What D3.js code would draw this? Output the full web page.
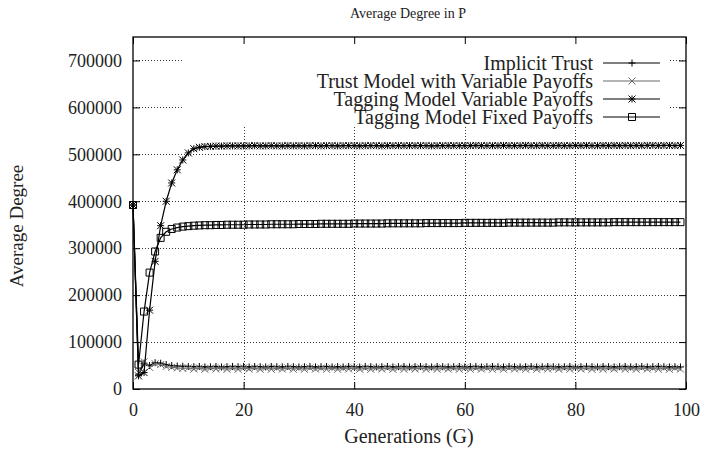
<!DOCTYPE html>
<html>
<head>
<meta charset="utf-8">
<script src="https://cdn.jsdelivr.net/npm/d3@7"></script>
<style>
  html, body { margin: 0; padding: 0; background: #fff; }
  svg { display: block; font-family: "Liberation Serif", "Times New Roman", serif; }
</style>
</head>
<body>
<svg id="chart" width="707" height="450"></svg>
<script>
// Average degree in population P over 100 generations, four models.
const yTicks = [0, 100000, 200000, 300000, 400000, 500000, 600000, 700000];
const xTicks = [0, 20, 40, 60, 80, 100];

const seriesNames = [
  "Implicit Trust",
  "Trust Model with Variable Payoffs",
  "Tagging Model Variable Payoffs",
  "Tagging Model Fixed Payoffs"
];

const implicitTrust = [
  392000, 30000, 55000, 50000, 56000, 55000, 52000, 50000, 49000, 48500,
  48000, 47500, 48000, 47000, 47500, 48000, 47000, 47500, 48000, 47500,
  48000, 47000, 48000, 47500, 47000, 48000, 47500, 47000, 48000, 47500,
  47000, 47500, 48000, 47000, 47500, 48000, 47000, 47500, 47000, 48000,
  47500, 47000, 48000, 47500, 47000, 47500, 48000, 47000, 47500, 48000,
  47000, 47500, 48000, 47500, 47000, 48000, 47500, 47000, 47500, 48000,
  47000, 47500, 48000, 47000, 47500, 48000, 47500, 47000, 48000, 47500,
  47000, 47500, 48000, 47000, 47500, 48000, 47500, 47000, 47500, 48000,
  47000, 47500, 48000, 47500, 47000, 48000, 47500, 47000, 47500, 48000,
  47000, 47500, 48000, 47000, 47500, 48000, 47500, 47000, 47500, 47000
];

const trustVariable = [
  392000, 35000, 58000, 46000, 54000, 52000, 48000, 46000, 45000, 44000,
  45000, 42500, 45000, 42000, 44500, 42500, 45000, 42000, 44500, 42000,
  45000, 42500, 44500, 42000, 45000, 42000, 44500, 42500, 45000, 42000,
  44500, 42000, 45000, 42500, 44500, 42000, 45000, 42000, 44500, 42500,
  45000, 42000, 44500, 42000, 45000, 42500, 44500, 42000, 45000, 42000,
  44500, 42500, 45000, 42000, 44500, 42000, 45000, 42500, 44500, 42000,
  45000, 42000, 44500, 42500, 45000, 42000, 44500, 42000, 45000, 42500,
  44500, 42000, 45000, 42000, 44500, 42500, 45000, 42000, 44500, 42000,
  45000, 42500, 44500, 42000, 45000, 42000, 44500, 42500, 45000, 42000,
  44500, 42000, 45000, 42500, 44500, 42000, 45000, 42000, 44500, 42500
];

const taggingVariable = [
  392000, 28000, 35000, 168000, 272000, 348000, 400000, 439000, 467000, 488000,
  503000, 512000, 515000, 516500, 517000, 517500, 517500, 518000, 518000, 518000,
  518000, 518000, 518500, 518000, 518000, 518500, 518000, 518000, 518500, 518000,
  518500, 518000, 518500, 518500, 518000, 518500, 518500, 518000, 518500, 518500,
  518500, 518000, 518500, 518500, 518500, 518000, 518500, 518500, 518500, 518500,
  518500, 518500, 518500, 518500, 518000, 518500, 518500, 518500, 518500, 518500,
  518500, 518500, 519000, 518500, 518500, 518500, 518500, 519000, 518500, 518500,
  518500, 519000, 518500, 518500, 519000, 518500, 518500, 519000, 518500, 518500,
  519000, 518500, 519000, 518500, 518500, 519000, 518500, 519000, 518500, 519000,
  518500, 519000, 518500, 519000, 519000, 518500, 519000, 519000, 518500, 519000
];

const taggingFixed = [
  392000, 52000, 165000, 248000, 293000, 322000, 335000, 341000, 344000, 346000,
  347000, 348000, 348500, 349000, 349000, 349500, 349500, 350000, 350000, 350000,
  350000, 350500, 350500, 350500, 350500, 351000, 351000, 351000, 351000, 351000,
  351500, 351500, 351500, 351500, 352000, 352000, 352000, 352000, 352000, 352000,
  352500, 352500, 352500, 352500, 352500, 352500, 353000, 353000, 353000, 353000,
  353000, 353000, 353000, 353500, 353500, 353500, 353500, 353500, 353500, 353500,
  354000, 354000, 354000, 354000, 354000, 354000, 354000, 354000, 354500, 354500,
  354500, 354500, 354500, 354500, 354500, 354500, 354500, 355000, 355000, 355000,
  355000, 355000, 355000, 355000, 355000, 355000, 355000, 355500, 355500, 355500,
  355500, 355500, 355500, 355500, 355500, 355500, 355500, 355500, 355500, 355500
];

const seriesValues = [implicitTrust, trustVariable, taggingVariable, taggingFixed];
const seriesSymbols = ["plus", "cross", "star", "square"];
const seriesColors = ["#000", "#6a6a6a", "#000", "#000"];

const svg = d3.select("#chart");
const plotL = 133, plotR = 686, plotT = 37, plotB = 389;

const x = d3.scaleLinear().domain([0, 100]).range([plotL, plotR]);
const y = d3.scaleLinear().domain([0, 750000]).range([plotB, plotT]);

// Dotted grid
const grid = svg.append("g").attr("stroke", "#000").attr("stroke-width", 0.8)
  .attr("stroke-dasharray", "1,2");
grid.selectAll("line.gy").data(yTicks.slice(1)).join("line")
  .attr("x1", plotL).attr("x2", plotR)
  .attr("y1", d => Math.round(y(d)) + 0.5).attr("y2", d => Math.round(y(d)) + 0.5);
grid.selectAll("line.gx").data(xTicks.slice(1, -1)).join("line")
  .attr("y1", plotT).attr("y2", plotB)
  .attr("x1", d => Math.round(x(d)) + 0.5).attr("x2", d => Math.round(x(d)) + 0.5);

// Key area keeps the grid clear behind the legend
svg.append("rect").attr("x", 184).attr("y", plotT + 1).attr("width", 485).attr("height", 87)
  .attr("fill", "#fff");

// Axes with ticks drawn inward, mirrored on the opposite sides
const tickLen = 7;
const axL = svg.append("g").attr("transform", `translate(${plotL},0)`)
  .call(d3.axisLeft(y).tickValues(yTicks).tickSize(-tickLen).tickPadding(11).tickFormat(d3.format("d")));
const axR = svg.append("g").attr("transform", `translate(${plotR},0)`)
  .call(d3.axisRight(y).tickValues(yTicks).tickSize(-tickLen).tickFormat(""));
const axB = svg.append("g").attr("transform", `translate(0,${plotB})`)
  .call(d3.axisBottom(x).tickValues(xTicks).tickSize(-tickLen).tickPadding(14).tickFormat(d3.format("d")));
const axT = svg.append("g").attr("transform", `translate(0,${plotT})`)
  .call(d3.axisTop(x).tickValues(xTicks).tickSize(-tickLen).tickFormat(""));
[axL, axR, axB, axT].forEach(a => {
  a.select(".domain").remove();
  a.selectAll("line").attr("stroke", "#000").attr("stroke-width", 1);
  a.selectAll("text").attr("font-family", "Liberation Serif, serif").attr("font-size", 18)
    .attr("fill", "#222");
});

// Frame
svg.append("rect").attr("x", plotL).attr("y", plotT).attr("width", plotR - plotL).attr("height", plotB - plotT)
  .attr("fill", "none").attr("stroke", "#000").attr("stroke-width", 1.3);

// Marker glyphs (gnuplot-style point types)
function marker(g, type, cx, cy, color) {
  const s = 3.5;
  const p = g.append("path").attr("fill", "none").attr("stroke", color).attr("stroke-width", 1);
  let d = "";
  if (type === "plus" || type === "star") d += `M${cx - s},${cy}H${cx + s}M${cx},${cy - s}V${cy + s}`;
  if (type === "cross" || type === "star") d += `M${cx - s},${cy - s}L${cx + s},${cy + s}M${cx - s},${cy + s}L${cx + s},${cy - s}`;
  if (type === "square") d += `M${cx - s},${cy - s}h${2 * s}v${2 * s}h${-2 * s}Z`;
  p.attr("d", d);
}

const line = d3.line().x((d, i) => x(i)).y(d => y(d));
const plot = svg.append("g");
seriesValues.forEach((vals, k) => {
  plot.append("path").datum(vals).attr("d", line)
    .attr("fill", "none").attr("stroke", seriesColors[k]).attr("stroke-width", 1.2);
  const mg = plot.append("g");
  vals.forEach((v, i) => marker(mg, seriesSymbols[k], x(i), y(v), seriesColors[k]));
});

// Legend
const legendY = [63, 81, 99, 117];
const legend = svg.append("g");
seriesNames.forEach((name, k) => {
  const ly = legendY[k];
  legend.append("text").attr("x", 593).attr("y", ly).attr("dy", "0.35em")
    .attr("text-anchor", "end").attr("font-size", 20).attr("fill", "#222").text(name);
  legend.append("line").attr("x1", 603).attr("x2", 660).attr("y1", ly).attr("y2", ly)
    .attr("stroke", seriesColors[k]).attr("stroke-width", 1.2);
  marker(legend, seriesSymbols[k], 632, ly, seriesColors[k]);
});

// Titles
svg.append("text").attr("x", 408).attr("y", 18).attr("text-anchor", "middle")
  .attr("font-size", 14).attr("fill", "#222").text("Average Degree in P");
svg.append("text").attr("x", 409).attr("y", 443).attr("text-anchor", "middle")
  .attr("font-size", 20).attr("fill", "#222").text("Generations (G)");
svg.append("text").attr("transform", "translate(23,226) rotate(-90)").attr("text-anchor", "middle")
  .attr("font-size", 19).attr("fill", "#222").text("Average Degree");
</script>
</body>
</html>
